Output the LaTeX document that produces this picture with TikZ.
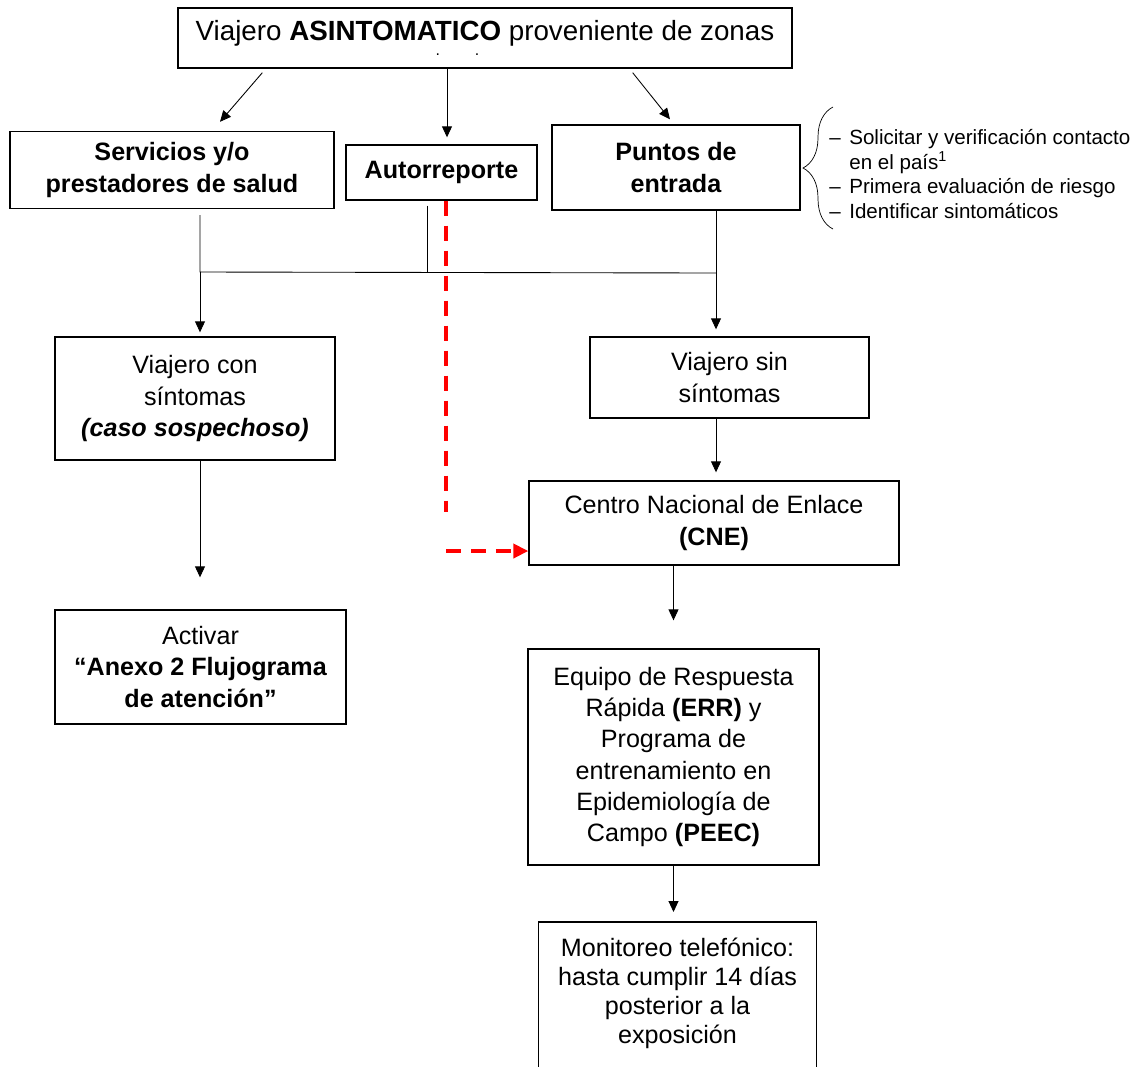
\documentclass[tikz,border=0pt]{standalone}
\usepackage{fontspec}
\setmainfont{Liberation Sans}
\usetikzlibrary{arrows.meta,decorations.pathreplacing}

\definecolor{dashred}{RGB}{255,0,0}

\tikzset{
	box/.style={draw,line width=0.8pt,inner sep=0pt,align=center,
		font=\fontsize{14.3}{17.8}\selectfont},
	conn/.style={draw,black,line width=0.5pt},
	arr/.style={conn,-{Triangle[length=0.22cm,width=0.2cm]}},
	reddash/.style={draw,dashred,line width=2.3pt,dash pattern=on 0.3cm off 0.2cm},
	note/.style={inner sep=0pt,align=left,font=\fontsize{11.7}{14.2}\selectfont}
}
\newcommand{\itm}{\makebox[0.4cm][l]{\textendash}}

\begin{document}
\begin{tikzpicture}[x=0.02cm,y=-0.02cm]
\useasboundingbox (0,0) rectangle (1136,1066);

%boxes
\node[box,minimum width=12.28cm,minimum height=1.2cm,font=\fontsize{15.8}{19}\selectfont] (title) at (485,38)
	{Viajero \textbf{ASINTOMATICO} proveniente de zonas\\[-10pt]
	{\fontsize{9}{9}\selectfont .\hspace{0.7cm}.\hspace*{1.1cm}}};
\node[box,minimum width=6.48cm,minimum height=1.54cm] (serv) at (172,170)
	{\textbf{Servicios y/o}\\\textbf{prestadores de salud}};
\node[box,minimum width=3.82cm,minimum height=1.1cm] (auto) at (441.5,172.5)
	{\textbf{Autorreporte}};
\node[box,minimum width=4.96cm,minimum height=1.7cm] (puntos) at (676,167.5)
	{\textbf{Puntos de}\\\textbf{entrada}};
\node[box,minimum width=5.6cm,minimum height=2.46cm] (con) at (195,398.5)
	{Viajero con\\síntomas\\\textbf{\textit{(caso sospechoso)}}};
\node[box,minimum width=5.58cm,minimum height=1.62cm] (sin) at (729.5,377.5)
	{Viajero sin\\síntomas};
\node[box,minimum width=7.4cm,minimum height=1.68cm] (cne) at (714,523)
	{Centro Nacional de Enlace\\\textbf{(CNE)}};
\node[box,minimum width=5.82cm,minimum height=2.28cm] (activar) at (200.5,667)
	{Activar\\\textbf{“Anexo 2 Flujograma}\\\textbf{de atención”}};
\node[box,minimum width=5.82cm,minimum height=4.32cm] (err) at (673.5,757)
	{Equipo de Respuesta\\Rápida \textbf{(ERR)} y\\Programa de\\entrenamiento en\\Epidemiología de\\Campo \textbf{(PEEC)}};
\node[box,draw=none,anchor=north,minimum width=5.54cm,inner ysep=0.3cm,
	font=\fontsize{14.3}{16.6}\selectfont] (mon) at (677.5,922)
	{Monitoreo telefónico:\\hasta cumplir 14 días\\posterior a la\\exposición};
\draw[line width=0.8pt] (mon.north west) rectangle ([yshift=-0.8cm]mon.south east);

%notes at Puntos de entrada
\draw[conn,line width=0.4pt,decorate,decoration={brace,amplitude=0.6cm}] (833,229) -- (833,107);
\node[note,anchor=west] (lista) at (829,174)
	{\itm Solicitar y verificación contacto\\
	\hspace*{0.4cm}en el país\textsuperscript{1}\\
	\itm Primera evaluación de riesgo\\
	\itm Identificar sintomáticos};

%arrows from the top
\draw[arr] ([xshift=1.7cm,yshift=-0.08cm]title.south west) -- ([xshift=0.96cm,yshift=0.18cm]serv.north);
\draw[arr] ([xshift=0.11cm]auto.north |- title.south) -- ([xshift=0.11cm,yshift=0.14cm]auto.north);
\draw[arr] ([xshift=-3.2cm,yshift=-0.08cm]title.south east) -- ([xshift=-0.12cm,yshift=0.1cm]puntos.north);

%joining line
\coordinate (jl) at (200,272);
\coordinate (jm) at (427,272);
\coordinate (jr) at (716,273);
\draw[conn] ([yshift=-0.12cm]serv.south -| jl) -- (jl) -- (jr);
\draw[conn] ([yshift=-0.1cm]auto.south -| jm) -- (jm);
\draw[conn] (puntos.south -| jr) -- (jr);
\draw[arr] (jl) -- ([yshift=0.08cm]con.north -| jl);
\draw[arr] (jr) -- ([yshift=0.14cm]sin.north -| jr);

%red dashed line
\coordinate (rd) at (446,551);
\draw[reddash] (auto.south -| rd) -- ([yshift=0.78cm]rd);
\draw[reddash,-{Triangle[length=0.3cm,width=0.28cm]}] (rd) -- (cne.west |- rd);

%arrows down
\draw[arr] (con.south -| jl) -- ([yshift=0.64cm]activar.north -| jl);
\draw[arr] (sin.south -| jr) -- ([yshift=0.16cm]cne.north -| jr);
\draw[arr] (cne.south -| err.north) -- ([yshift=0.56cm]err.north);
\draw[arr] (err.south) -- ([yshift=0.2cm]mon.north -| err.south);
\end{tikzpicture}
\end{document}
